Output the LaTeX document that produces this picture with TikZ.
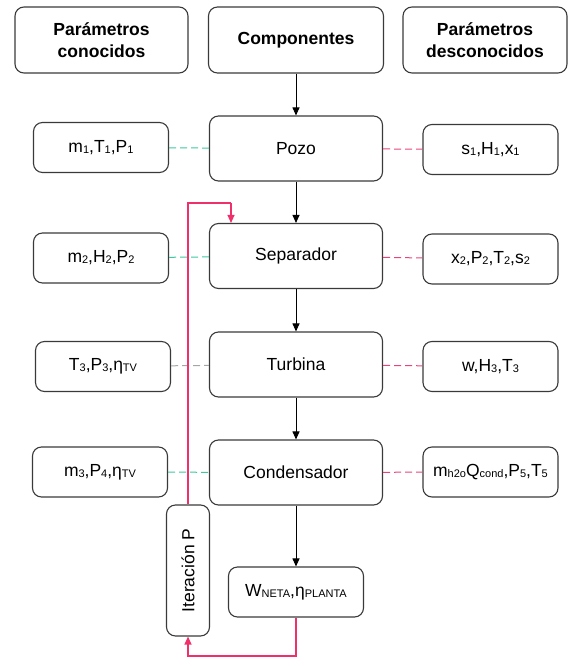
\documentclass[tikz,border=0pt]{standalone}
\usepackage{fontspec}
\setmainfont{Liberation Sans}
\usetikzlibrary{arrows.meta}
\definecolor{lineg}{HTML}{3A3A3A}
\definecolor{dashgreen}{HTML}{3CC8A0}
\definecolor{dashpink}{HTML}{E8447A}
\definecolor{fbred}{HTML}{F0306A}
\newcommand{\ix}[1]{\raisebox{-1pt}{\fontsize{11}{11}\selectfont #1}}
\tikzset{
  box/.style={draw=lineg, line width=1.1pt, rounded corners=9pt, align=center,
    font=\fontsize{17.5}{22}\selectfont},
  head/.style={box, minimum height=66pt, font=\fontsize{17.5}{22}\selectfont\bfseries},
  comp/.style={box, minimum width=173pt, minimum height=65pt},
  par/.style={box, minimum width=135pt, minimum height=50pt},
  flow/.style={draw=black, line width=1pt, -{Triangle[length=8pt,width=7pt]}},
  known/.style={draw=dashgreen, line width=1pt, dash pattern=on 7pt off 4pt},
  unknown/.style={draw=dashpink, line width=1pt, dash pattern=on 7pt off 4pt},
  feed/.style={draw=fbred, line width=1.2pt}
}
\begin{document}
\begin{tikzpicture}[x=1pt,y=-1pt]
    \useasboundingbox (0,0) rectangle (569,666);

    \node[head, minimum width=173pt] (hknown) at (101.5,40) {Parámetros\\conocidos};
    \node[head, minimum width=175pt] (hcomp) at (296,40) {Componentes};
    \node[head, minimum width=164pt] (hunknown) at (485,40) {Parámetros\\desconocidos};

    \node[comp] (pozo) at (296,148.5) {Pozo};
    \node[comp] (sep) at (296,256) {Separador};
    \node[comp] (turb) at (296,364.5) {Turbina};
    \node[comp] (cond) at (296,472.5) {Condensador};

    \node[par] (k1) at (101,147.5) {m\ix{1},T\ix{1},P\ix{1}};
    \node[par] (k2) at (101,258) {m\ix{2},H\ix{2},P\ix{2}};
    \node[par] (k3) at (103,366.5) {T\ix{3},P\ix{3},η\ix{TV}};
    \node[par] (k4) at (100,472) {m\ix{3},P\ix{4},η\ix{TV}};

    \node[par] (u1) at (490.5,149.5) {s\ix{1},H\ix{1},x\ix{1}};
    \node[par] (u2) at (490.5,259) {x\ix{2},P\ix{2},T\ix{2},s\ix{2}};
    \node[par] (u3) at (490.5,366.5) {w,H\ix{3},T\ix{3}};
    \node[par] (u4) at (490.5,472) {m\ix{h2o}Q\ix{cond},P\ix{5},T\ix{5}};

    \node[par] (res) at (296,592) {W\ix{NETA},η\ix{PLANTA}};
    \node[box, rotate=90, minimum width=131pt, minimum height=43pt] (iter) at (188,570.5) {Iteración P};

    \draw[flow] (hcomp) -- (pozo);
    \draw[flow] (pozo) -- (sep);
    \draw[flow] (sep) -- (turb);
    \draw[flow] (turb) -- (cond);
    \draw[flow] (cond) -- (res);

    \draw[known] (k1) -- (pozo);
    \draw[known] (k2) -- (sep);
    \draw[known, draw=gray!70] (k3) -- (turb);
    \draw[known] (k4) -- (cond);

    \draw[unknown] (pozo) -- (u1);
    \draw[unknown] (sep) -- (u2);
    \draw[unknown] (turb) -- (u3);
    \draw[unknown] (cond) -- (u4);

    \coordinate (fbtop) at (231,203);
    \coordinate (fbbot) at (188,656);
    \draw[feed] (iter.east) |- (fbtop);
    \draw[feed, -{Triangle[length=8pt,width=7pt]}] (fbtop) -- (fbtop |- sep.north);
    \draw[feed, -{Triangle[length=8pt,width=7pt]}] (res.south) |- (fbbot) -- (iter.west);
\end{tikzpicture}
\end{document}
